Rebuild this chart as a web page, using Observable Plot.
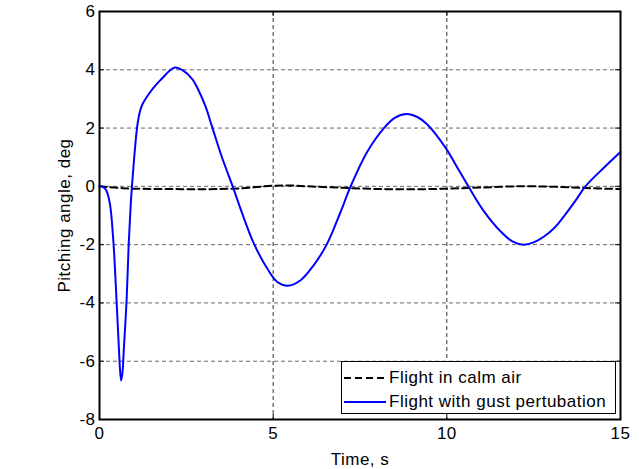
<!DOCTYPE html>
<html><head><meta charset="utf-8">
<script src="https://cdn.jsdelivr.net/npm/d3@7"></script>
<script src="https://cdn.jsdelivr.net/npm/@observablehq/plot@0.6"></script>
<style>
body{margin:0;background:#fff;font-family:"Liberation Sans",Arial,sans-serif;}
#wrap{position:relative;width:639px;height:469px;}
#legend{position:absolute;left:341px;top:361px;width:273px;height:51px;border:1.5px solid #000;background:#fff;font-size:17px;letter-spacing:0.5px;color:#000;}
.row{position:absolute;left:2px;height:20px;display:flex;align-items:center;}
.row svg{margin-right:3px;}
</style></head>
<body><div id="wrap"><div id="legend"></div></div>
<script>
const gustT = [0,0.1,0.2,0.3,0.4,0.49,0.56,0.62,0.66,0.70,0.78,0.84,0.9,0.96,1.0,1.08,1.15,1.23,1.42,1.6,1.8,2.0,2.17,2.4,2.67,2.85,3.05,3.24,3.53,3.85,4.1,4.44,4.83,5.12,5.42,5.79,6.17,6.54,6.94,7.23,7.71,8.19,8.5,8.84,9.15,9.43,9.96,10.3,10.62,11.07,11.55,11.9,12.2,12.5,12.79,13.1,13.37,13.7,13.99,14.52,15];
const gustV = [0,-0.02,-0.15,-0.6,-1.9,-3.9,-5.6,-6.66,-6.4,-5.6,-3.9,-2.0,-0.6,0.4,1.0,2.0,2.5,2.8,3.17,3.45,3.7,3.95,4.08,3.98,3.68,3.3,2.75,2.05,0.98,-0.05,-0.9,-1.95,-2.82,-3.28,-3.41,-3.22,-2.7,-2.0,-0.88,0,1.19,2.0,2.35,2.48,2.38,2.13,1.33,0.65,0,-0.86,-1.55,-1.9,-2.0,-1.92,-1.73,-1.42,-1.03,-0.5,0,0.64,1.18];
const calmT = [0,0.5,1,2,3,4,5,5.5,6,7,8,9,10,11,12,13,14,15];
const calmV = [0,-0.05,-0.08,-0.09,-0.1,-0.07,0.02,0.03,0.0,-0.05,-0.09,-0.1,-0.08,-0.04,0.0,-0.01,-0.06,-0.09];
const xTicks = [0,5,10,15];
const yTicks = [-8,-6,-4,-2,0,2,4,6];
const seriesNames = ["Flight in calm air","Flight with gust pertubation"];

const gust = gustT.map((t,i)=>({t, v: gustV[i]}));
const calm = calmT.map((t,i)=>({t, v: calmV[i]}));
const H = 469, mt = 11, mb = 50, ph = H - mt - mb;
const font = '"Liberation Sans", Arial, sans-serif';

const chart = Plot.plot({
  width: 639, height: H,
  marginLeft: 99, marginRight: 19, marginTop: mt, marginBottom: mb,
  style: {fontFamily: font, fontSize: "17px", color: "#000", background: "#fff"},
  x: {domain: [0,15], ticks: xTicks},
  y: {domain: [-8,6], ticks: yTicks},
  marks: [
    Plot.ruleX(xTicks.slice(1,-1), {x: d=>d, stroke: "#000", strokeOpacity: 0.8, strokeDasharray: "4,3", strokeWidth: 1}),
    Plot.ruleY(yTicks.slice(1,-1), {y: d=>d, stroke: "#000", strokeOpacity: 0.6, strokeDasharray: "4,3", strokeWidth: 1}),
    Plot.tickX(xTicks, {x: d=>d, insetTop: ph-5, stroke: "#000"}),
    Plot.tickX(xTicks, {x: d=>d, insetBottom: ph-5, stroke: "#000"}),
    Plot.tickY(yTicks, {y: d=>d, insetRight: 516, stroke: "#000"}),
    Plot.tickY(yTicks, {y: d=>d, insetLeft: 516, stroke: "#000"}),
    Plot.line(calm, {x: "t", y: "v", stroke: "#000", strokeWidth: 2, strokeDasharray: "7,4", curve: "catmull-rom"}),
    Plot.line(gust, {x: "t", y: "v", stroke: "#0000ff", strokeWidth: 2, curve: "catmull-rom"}),
    Plot.frame({stroke: "#000", strokeWidth: 2}),
    Plot.axisX({ticks: xTicks, tickSize: 0, tickPadding: 7, tickFormat: d=>String(d), label: "Time, s", labelAnchor: "center", labelArrow: "none", labelOffset: 45}),
    Plot.axisY({ticks: yTicks, tickSize: 0, tickPadding: 4, tickFormat: d=>String(d), label: "Pitching angle, deg", labelAnchor: "center", labelArrow: "none", labelOffset: 42})
  ]
});
d3.select(chart).selectAll("text").attr("font-size", null).style("font-size", "17px").style("letter-spacing", "0.5px");
document.getElementById("wrap").prepend(chart);

const legend = document.getElementById("legend");
const styles = [{stroke:"#000", dash:"7,4"},{stroke:"#0000ff", dash:null}];
seriesNames.forEach((name,i)=>{
  const row = document.createElement("div");
  row.className = "row";
  row.style.top = (6 + i*24) + "px";
  const s = d3.create("svg").attr("width", 42).attr("height", 10);
  s.append("line").attr("x1",0).attr("x2",42).attr("y1",5).attr("y2",5)
    .attr("stroke", styles[i].stroke).attr("stroke-width", 2)
    .attr("stroke-dasharray", styles[i].dash);
  row.append(s.node());
  const sp = document.createElement("span"); sp.textContent = name;
  row.append(sp);
  legend.append(row);
});
</script></body></html>
